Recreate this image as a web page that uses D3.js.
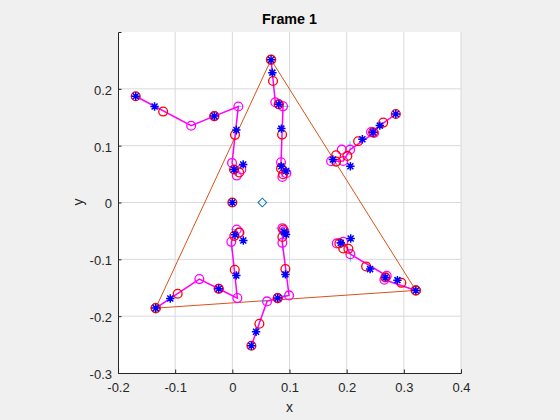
<!DOCTYPE html>
<html>
<head>
<meta charset="utf-8">
<script src="https://cdn.jsdelivr.net/npm/d3@7"></script>
<style>
  html, body { margin: 0; padding: 0; background: #f0f0f0; }
  text { font-family: "Liberation Sans", Arial, sans-serif; fill: #262626; }
</style>
</head>
<body>
<svg id="chart" width="560" height="420"></svg>
<script>
const xTicks = [-0.2, -0.1, 0, 0.1, 0.2, 0.3, 0.4];
const yTicks = [-0.3, -0.2, -0.1, 0, 0.1, 0.2];

// triangle corners
const triangleX = [0.0677, 0.321, -0.134];
const triangleY = [0.2513, -0.1547, -0.1858];

// magenta chains, one per limb
const chainAX = [-0.169, -0.072, -0.0315, 0.0105, -0.0005, 0.0077];
const chainAY = [0.187, 0.135, 0.152, 0.169, 0.0696, 0.0474];
const chainBX = [0.0677, 0.0752, 0.0812, 0.0887, 0.0852, 0.0875];
const chainBY = [0.2513, 0.1763, 0.1728, 0.1692, 0.0708, 0.045];
const chainCX = [0.286, 0.2427, 0.248, 0.206, 0.194, 0.1727];
const chainCY = [0.1557, 0.124, 0.1223, 0.093, 0.073, 0.0726];
const chainDX = [0.321, 0.266, 0.27, 0.2065, 0.194, 0.1827];
const chainDY = [-0.1547, -0.136, -0.129, -0.0909, -0.069, -0.072];
const chainEX = [0.0333, 0.0607, 0.0794, 0.0992, 0.0875, 0.0875];
const chainEY = [-0.252, -0.174, -0.1682, -0.1635, -0.071, -0.0452];
const chainFX = [-0.134, -0.0577, -0.0238, 0.0088, -0.0018, 0.0077];
const chainFY = [-0.1858, -0.1348, -0.1518, -0.1682, -0.0692, -0.0475];

// extra magenta circles not on a chain
const extraMagentaX = [0.0157, 0.0945, 0.1914, 0.091, 0.0125];
const extraMagentaY = [0.058, 0.0515, 0.093, -0.0505, -0.0527];

const redX = [0, -0.169, -0.121, -0.0315, 0.0047, 0.003, 0.012,
  0.0677, 0.0712, 0.0812, 0.087, 0.0852, 0.0887,
  0.286, 0.264, 0.2462, 0.22, 0.2012, 0.1815, 0.1815,
  0.321, 0.2957, 0.2678, 0.234, 0.203, 0.194, 0.1872,
  0.0333, 0.0473, 0.0794, 0.0928, 0.0875, 0.0892,
  -0.134, -0.0956, -0.0238, 0.0042, 0.0035, 0.0117];
const redY = [0, 0.187, 0.16, 0.152, 0.119, 0.058, 0.053,
  0.2513, 0.2137, 0.1728, 0.1195, 0.06, 0.0497,
  0.1557, 0.1406, 0.1235, 0.1077, 0.082, 0.083, 0.072,
  -0.1547, -0.1413, -0.1318, -0.1125, -0.0815, -0.081, -0.072,
  -0.252, -0.2133, -0.1682, -0.1172, -0.0605, -0.0475,
  -0.1858, -0.1606, -0.1518, -0.1184, -0.0587, -0.0527];

const starX = [0, -0.169, -0.136, -0.0315, 0.007, 0.003, 0.019,
  0.0677, 0.07, 0.0812, 0.0857, 0.0857, 0.094,
  0.286, 0.258, 0.2462, 0.2275, 0.1757, 0.2065,
  0.321, 0.2888, 0.2678, 0.241, 0.207, 0.1897,
  0.0333, 0.0415, 0.0794, 0.0928, 0.094, 0.0905,
  -0.134, -0.1085, -0.0238, 0.007, 0.0192, 0.0047];
const starY = [0, 0.187, 0.169, 0.152, 0.1275, 0.058, 0.067,
  0.2513, 0.2285, 0.1728, 0.13, 0.0638, 0.0555,
  0.1557, 0.1353, 0.1235, 0.1112, 0.0756, 0.0638,
  -0.1547, -0.1366, -0.1318, -0.1172, -0.0633, -0.071,
  -0.252, -0.2274, -0.1682, -0.1265, -0.0563, -0.0517,
  -0.1858, -0.1688, -0.1518, -0.1283, -0.0668, -0.0569];

// short cyan segments leaving some magenta points
const cyanX1 = [0.0887, 0.0105, 0.0992, 0.0607, 0.206, 0.2065, 0.0077, 0.0875, -0.0018, 0.0875, 0.0852];
const cyanY1 = [0.1692, 0.169, -0.1635, -0.174, 0.093, -0.0909, -0.0475, -0.0452, -0.0692, -0.071, 0.0708];
const cyanX2 = [0.1, 0.016, 0.086, 0.049, 0.206, 0.2065, -0.002, 0.076, -0.0018, 0.0875, 0.0852];
const cyanY2 = [0.1692, 0.169, -0.1635, -0.174, 0.108, -0.104, -0.0475, -0.0452, -0.085, -0.085, 0.057];

const centerX = [0.0525];
const centerY = [0];

const svg = d3.select("#chart");
const left = 118, right = 461, top_ = 32, bottom = 373;

const x = d3.scaleLinear().domain([-0.2, 0.4]).range([left, right]);
const y = d3.scaleLinear().domain([-0.3, 0.3]).range([bottom, top_]);

svg.append("rect")
  .attr("x", left).attr("y", top_)
  .attr("width", right - left).attr("height", bottom - top_)
  .attr("fill", "white");

// grid
svg.append("g").selectAll("line").data(xTicks.slice(1))
  .enter().append("line")
  .attr("x1", d => x(d)).attr("x2", d => x(d))
  .attr("y1", top_).attr("y2", bottom)
  .attr("stroke", "#d9d9d9");
svg.append("g").selectAll("line").data(yTicks.slice(1))
  .enter().append("line")
  .attr("x1", left).attr("x2", right)
  .attr("y1", d => y(d)).attr("y2", d => y(d))
  .attr("stroke", "#d9d9d9");

// axes, ticks point inward like the original
const xAxis = d3.axisBottom(x).tickValues(xTicks).tickSize(-3.5).tickPadding(10)
  .tickFormat(d => d3.format("~g")(d).replace("\u2212", "-"));
const yAxis = d3.axisLeft(y).tickValues(yTicks).tickSize(-3.5).tickPadding(6)
  .tickFormat(d => d3.format("~g")(d).replace("\u2212", "-"));

const gx = svg.append("g").attr("transform", `translate(0,${bottom})`).call(xAxis);
const gy = svg.append("g").attr("transform", `translate(${left},0)`).call(yAxis);
[gx, gy].forEach(g => {
  g.selectAll("path").attr("stroke", "#262626");
  g.selectAll("line").attr("stroke", "#262626");
  g.selectAll("text").style("font-size", "13px");
});
gy.selectAll("text").attr("dy", "0.42em");

svg.append("text").text("Frame 1")
  .attr("x", (left + right) / 2).attr("y", 24)
  .attr("text-anchor", "middle")
  .style("font-size", "14.3px").style("font-weight", "700").style("fill", "black");
svg.append("text").text("x")
  .attr("x", (left + right) / 2).attr("y", 412)
  .attr("text-anchor", "middle").style("font-size", "14px");
svg.append("text").text("y")
  .attr("transform", `translate(83,${(top_ + bottom) / 2 - 0.5}) rotate(-90)`)
  .attr("text-anchor", "middle").style("font-size", "14px");

// triangle
const triPts = triangleX.map((d, i) => [x(d), y(triangleY[i])]);
svg.append("path")
  .attr("d", d3.line().curve(d3.curveLinearClosed)(triPts))
  .attr("fill", "none").attr("stroke", "#d95319").attr("stroke-width", 1);
svg.append("g").selectAll("circle").data(triPts)
  .enter().append("circle")
  .attr("cx", d => d[0]).attr("cy", d => d[1]).attr("r", 4.8)
  .attr("fill", "none").attr("stroke", "#d95319").attr("stroke-width", 1);

// cyan segments
svg.append("g").selectAll("line").data(cyanX1)
  .enter().append("line")
  .attr("x1", d => x(d))
  .attr("y1", (d, i) => y(cyanY1[i]))
  .attr("x2", (d, i) => x(cyanX2[i]))
  .attr("y2", (d, i) => y(cyanY2[i]))
  .attr("stroke", "#00ffff").attr("stroke-width", 1);

// magenta chains
const chains = [
  [chainAX, chainAY], [chainBX, chainBY], [chainCX, chainCY],
  [chainDX, chainDY], [chainEX, chainEY], [chainFX, chainFY]
];
const chainLine = d3.line();
chains.forEach(c => {
  const pts = c[0].map((d, i) => [x(d), y(c[1][i])]);
  svg.append("path")
    .attr("d", chainLine(pts))
    .attr("fill", "none").attr("stroke", "#ff00ff").attr("stroke-width", 1.5);
  svg.append("g").selectAll("circle").data(pts.slice(1))
    .enter().append("circle")
    .attr("cx", d => d[0]).attr("cy", d => d[1]).attr("r", 4.4)
    .attr("fill", "none").attr("stroke", "#ff00ff").attr("stroke-width", 1.3);
});
svg.append("g").selectAll("circle").data(extraMagentaX)
  .enter().append("circle")
  .attr("cx", d => x(d)).attr("cy", (d, i) => y(extraMagentaY[i])).attr("r", 4.4)
  .attr("fill", "none").attr("stroke", "#ff00ff").attr("stroke-width", 1.3);

// red circles
svg.append("g").selectAll("circle").data(redX)
  .enter().append("circle")
  .attr("cx", d => x(d)).attr("cy", (d, i) => y(redY[i])).attr("r", 4.4)
  .attr("fill", "none").attr("stroke", "#ff0000").attr("stroke-width", 1.3);

// blue asterisks
const star = "M0,-4.2V4.2M-4.2,0H4.2M-3,-3L3,3M-3,3L3,-3";
svg.append("g").selectAll("path").data(starX)
  .enter().append("path")
  .attr("d", star)
  .attr("transform", (d, i) => `translate(${x(d)},${y(starY[i])})`)
  .attr("fill", "none").attr("stroke", "#0000ff").attr("stroke-width", 1.5);

// centre diamond
svg.append("g").selectAll("path").data(centerX)
  .enter().append("path")
  .attr("d", d3.symbol().type(d3.symbolSquare).size(38))
  .attr("transform", (d, i) => `translate(${x(d)},${y(centerY[i])}) rotate(45)`)
  .attr("fill", "none").attr("stroke", "#0072bd").attr("stroke-width", 1);
</script>
</body>
</html>
